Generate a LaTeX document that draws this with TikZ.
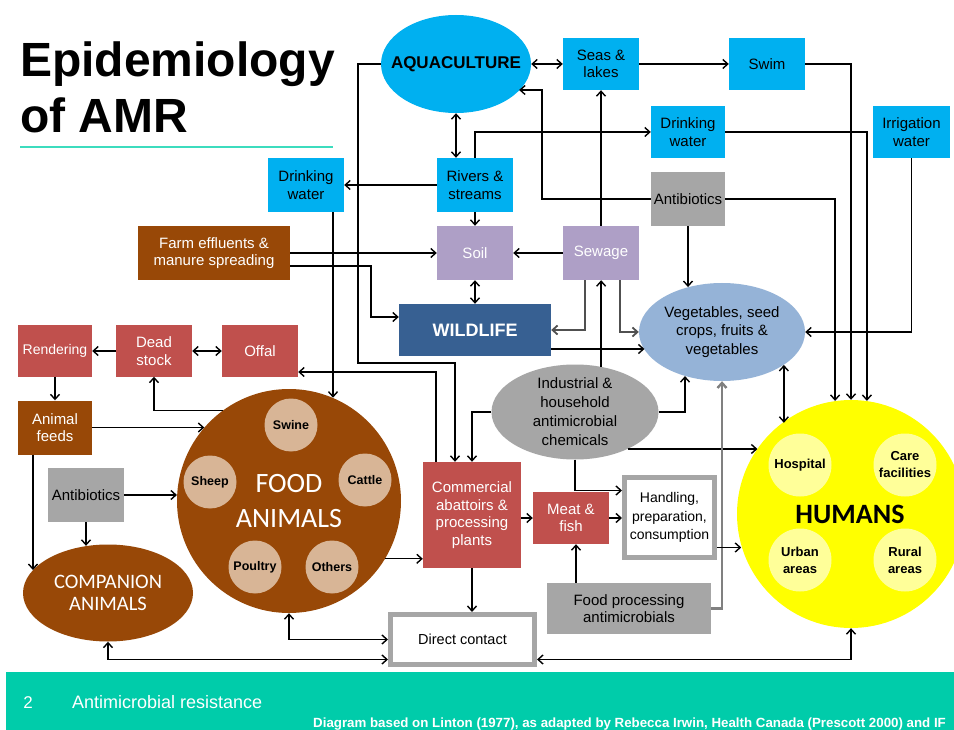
\documentclass[tikz,border=0pt]{standalone}
\usepackage{fontspec}
\setmainfont{Liberation Sans}
\newfontfamily\calib{Carlito}
\usetikzlibrary{shapes.geometric,arrows.meta,calc}
\definecolor{cyanC}{HTML}{00B0F0}
\definecolor{brownC}{HTML}{984807}
\definecolor{redC}{HTML}{C0504D}
\definecolor{lavC}{HTML}{AE9FC6}
\definecolor{wildC}{HTML}{376092}
\definecolor{vegC}{HTML}{95B3D7}
\definecolor{grayC}{HTML}{A6A6A6}
\definecolor{tanC}{HTML}{D8B596}
\definecolor{yelC}{HTML}{FFFF00}
\definecolor{ltyC}{HTML}{FFFF99}
\definecolor{footC}{HTML}{00CCAA}
\definecolor{ulineC}{HTML}{3CDCBE}
\definecolor{dgC}{HTML}{505050}
\newcommand\fsz[2]{\fontsize{#1}{#2}\selectfont}
\begin{document}
\begin{tikzpicture}[x=1pt,y=-1pt,
  sz/.style 2 args={minimum width=#1pt, minimum height=#2pt},
  box/.style={rectangle, inner sep=1pt, align=center, font=\fsz{15}{17.5}},
  cbox/.style={box, fill=cyanC, text=black},
  gbox/.style={box, fill=grayC, text=black},
  bbox/.style={box, fill=brownC, text=white},
  lbox/.style={box, fill=lavC, text=white},
  rbox/.style={box, fill=redC, text=white},
  wbox/.style={box, fill=white, draw=grayC, line width=5pt, font=\fsz{14}{18.5}},
  ell/.style={ellipse, inner sep=0pt},
  sub/.style={circle, fill=tanC, minimum size=53pt, inner sep=0pt, font=\bfseries\fsz{12.5}{14}},
  hsub/.style={circle, fill=ltyC, minimum size=63pt, inner sep=0pt, align=center, font=\bfseries\fsz{13}{17}},
  tip/.tip={Straight Barb[length=5pt,width=9pt]},
  arr/.style={draw=black, line width=1.4pt, -tip},
  darr/.style={draw=black, line width=1.4pt, tip-tip},
  garr/.style={draw=dgC, line width=1.8pt, -tip},
  lgarr/.style={draw=gray, line width=2.4pt, -tip}
]
\useasboundingbox (0,0) rectangle (954,730);
\fill[white] (0,0) rectangle (954,730);

% title and footer
\node[anchor=base west, inner sep=0pt, font=\bfseries\fsz{48}{56}] (title1) at (20,77) {Epidemiology};
\node[anchor=base west, inner sep=0pt, font=\bfseries\fsz{48}{56}] (title2) at (20,133) {of AMR};
\draw[ulineC, line width=2pt] (20,147) -- (333,147);
\fill[footC] (6,672) rectangle (954,730);
\node[anchor=base, text=white, font=\fsz{17}{20}] (pnum) at (28,708) {2};
\node[anchor=base west, inner sep=0pt, text=white, font=\fsz{18}{20}] (foot) at (72,708) {Antimicrobial resistance};
\node[anchor=base west, inner sep=0pt, text=white, font=\bfseries\fsz{13.3}{14}] (credit) at (313,727) {Diagram based on Linton (1977), as adapted by Rebecca Irwin, Health Canada (Prescott 2000) and IF};

% big shapes
\node[circle, fill=brownC, minimum size=224pt, inner sep=0pt,
  label={[align=center, text=white, font=\calib\fsz{28}{35}]center:{FOOD\\ANIMALS}}] (food) at (289,501) {};
\node[circle, fill=yelC, minimum size=228pt, inner sep=0pt,
  label={[font=\calib\bfseries\fsz{28}{30}, xshift=-1pt]center:{HUMANS}}] (hum) at (851,514) {};
\node[ell, fill=cyanC, sz={150}{98},
  label={[font=\bfseries\fsz{17}{20}]center:{AQUACULTURE}}] (aqua) at (456,64) {};
\node[ell, fill=vegC, sz={166}{98},
  label={[align=center, font=\fsz{15}{18.5}]center:{Vegetables, seed\\crops, fruits \&\\vegetables}}] (veg) at (722,332) {};
\node[ell, fill=grayC, sz={167}{95},
  label={[align=center, font=\fsz{15}{19}]center:{Industrial \&\\household\\antimicrobial\\chemicals}}] (ind) at (575,412) {};
\node[ell, fill=brownC, sz={170}{97},
  label={[align=center, text=white, font=\calib\fsz{20.5}{22}]center:{COMPANION\\ANIMALS}}] (comp) at (108,593) {};

% sub circles
\node[sub] (swine) at (291,425) {Swine};
\node[sub] (sheep) at (210,482) {Sheep};
\node[sub] (cattle) at (365,480) {Cattle};
\node[sub] (poultry) at (255,567) {Poultry};
\node[sub] (others) at (332,567) {Others};
\node[hsub] (hosp) at (800,465) {Hospital};
\node[hsub] (care) at (905,465) {Care\\facilities};
\node[hsub] (urban) at (800,560) {Urban\\areas};
\node[hsub] (rural) at (905,560) {Rural\\areas};

% boxes
\node[cbox,sz={76}{52}] (seas) at (601,64) {Seas \&\\lakes};
\node[cbox,sz={76}{52}] (swim) at (767,64) {Swim};
\node[cbox,sz={74}{52}] (dwr) at (688,132) {Drinking\\water};
\node[cbox,sz={77}{52}] (irr) at (911.5,132) {Irrigation\\water};
\node[cbox,sz={76}{54}] (dwl) at (306,185) {Drinking\\water};
\node[cbox,sz={76}{54}] (riv) at (475,185) {Rivers \&\\streams};
\node[gbox,sz={74}{54}] (abt) at (688,199) {Antibiotics};
\node[bbox,sz={152}{54}] (farm) at (214,253) {Farm effluents \&\\manure spreading};
\node[lbox,sz={76}{54}] (soil) at (475,253) {Soil};
\node[lbox,sz={76}{54}] (sew) at (601,253) {Sewage};
\node[box, fill=wildC, sz={152}{52}, text=white, font=\bfseries\fsz{18}{20}] (wild) at (475,330) {WILDLIFE};
\node[rbox,sz={74}{51},font=\fsz{14}{17}] (rend) at (55,351) {Rendering};
\node[rbox,sz={76}{51}] (dead) at (154,351) {Dead\\stock};
\node[rbox,sz={76}{51}] (offal) at (260,351) {Offal};
\node[bbox,sz={74}{54}] (feeds) at (55,427.5) {Animal\\feeds};
\node[gbox,sz={76}{54}] (abl) at (86,495) {Antibiotics};
\node[rbox,sz={98}{106}] (aba) at (472,515) {Commercial\\abattoirs \&\\processing\\plants};
\node[rbox,sz={76}{52}] (meat) at (571,518) {Meat \&\\fish};
\node[wbox,sz={90}{80}] (hand) at (669.5,517.5) {Handling,\\preparation,\\consumption};
\node[gbox,sz={164}{51}] (fpa) at (629,608.5) {Food processing\\antimicrobials};
\node[wbox,sz={144}{50},font=\fsz{14.5}{17}] (dc) at (462.5,639.5) {Direct contact};

% helper coordinates
\coordinate (k1) at (542,90);
\coordinate (k2) at (358,363);
\coordinate (s1) at ([xshift=-16pt]sew.south);
\coordinate (s2) at ([xshift=19pt]sew.south);
\coordinate (w1) at ([yshift=-19pt]wild.east);
\coordinate (f1) at ([yshift=-13pt]farm.east);
\coordinate (f2) at ([yshift=13pt]wild.west);
\coordinate (f2b) at ([xshift=-28pt]f2);
\coordinate (d1) at ([xshift=27pt]dwl.south);
\coordinate (b1) at ([xshift=-17pt]aba.north);
\coordinate (b2) at ([xshift=-36pt]aba.north);
\coordinate (o1) at ([yshift=-21pt]offal.east);
\coordinate (h1) at ([yshift=27pt]hand.west);
\coordinate (h2) at ([yshift=-30pt]hand.east);
\coordinate (m1) at ([xshift=5pt]meat.south);
\coordinate (c1) at ([yshift=-20pt]dc.west);
\coordinate (c2) at ([yshift=-20pt]dc.east);
\coordinate (f3) at ([xshift=-22pt]feeds.south);

% connectors: water
\draw[darr] (aqua.east) -- (seas.west);
\draw[arr] (seas.east) -- (swim.west);
\draw[arr] (swim.east) -| (hum.north);
\draw[arr] (dwr.east) -| (hum.82);
\draw[arr] (abt.east) -| (hum.98);
\draw[darr] (aqua.south) -- (aqua.south |- riv.north);
\draw[arr] (riv.west) -- (dwl.east);
\draw[arr] (riv.north) |- (dwr.west);
\draw[arr] (riv.south) -- (soil.north);
\draw[arr] (abt.west) -| (k1) -- (k1 -| aqua.-23);
\draw[arr] (abt.south) -- (abt.south |- veg.127);
\draw[arr] (sew.north) -- (seas.south);
\draw[arr] (sew.west) -- (soil.east);
\draw[garr] (s1) |- (wild.east);
\draw[garr] (s2) |- (veg.west);
\draw[arr] (ind.60) -- (ind.60 |- sew.south);
\draw[arr] (w1) -- (w1 -| veg.193);
\draw[darr] (soil.south) -- (wild.north);
\draw[arr] (farm.east) -- (soil.west);
\draw[arr] (f1) -| (f2b) -- (f2);
\draw[arr] (d1) -- (d1 |- food.67);
\draw[arr] (aqua.west) -| (k2) -| (b1);
\draw[arr] (b2) |- (o1);
% industrial
\draw[arr] (ind.west) -| (aba.north);
\draw[arr] (ind.east) -| (veg.230);
\draw[arr] (ind.-35) -- (ind.-35 -| hum.145);
\draw[arr] (ind.south) |- (h1);
% food chain
\draw[arr] (m1 |- fpa.north) -- (m1);
\draw[lgarr] (fpa.east) -| (veg.south);
\draw[darr] (veg.-28) -- (veg.-28 |- hum.127);
\draw[arr] (irr.south) |- (veg.east);
\draw[arr] (h2) -- (h2 -| hum.196);
\draw[arr] (meat.west -| aba.east) -- (meat.west);
\draw[arr] (meat.east) -- (meat.east -| hand.west);
\draw[arr] (food.-31) -- (food.-31 -| aba.west);
\draw[arr] (aba.south) -- (aba.south |- dc.north);
\draw[darr] (dc.west) -| (food.south);
\draw[darr] (c1) -| (comp.south);
\draw[darr] (c2) -| (hum.south);
% left side
\draw[arr] (feeds.east) -- (feeds.east -| food.139);
\draw[arr] (abl.east) -- (abl.east -| food.177);
\draw[arr] (abl.south) -- (abl.south |- comp.114);
\draw[arr] (f3) -- (f3 |- comp.163);
\draw[arr] (rend.south) -- (feeds.north);
\draw[arr] (dead.west) -- (rend.east);
\draw[darr] (dead.east) -- (offal.west);
\draw[arr] (food.126) -| (dead.south);
\end{tikzpicture}
\end{document}
